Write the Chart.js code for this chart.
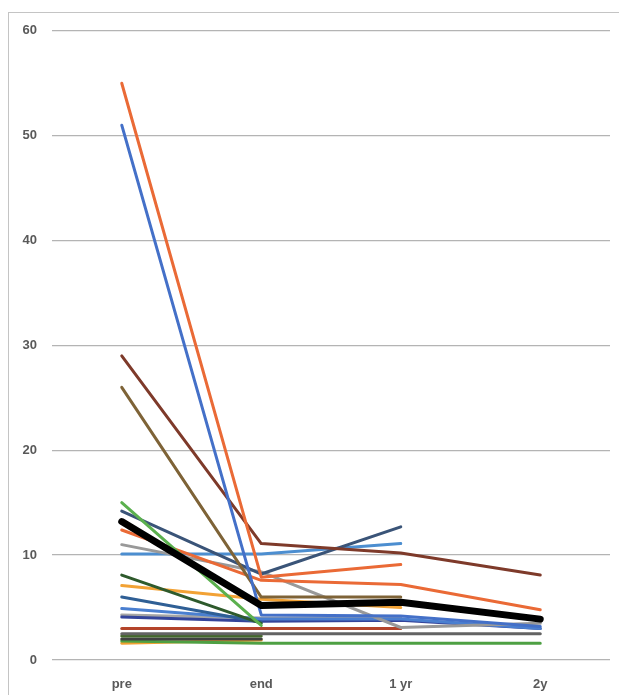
<!DOCTYPE html>
<html>
<head>
<meta charset="utf-8">
<script src="https://cdn.jsdelivr.net/npm/chart.js@4"></script>
<style>
  html, body { margin: 0; padding: 0; background: #fff; width: 619px; height: 695px; overflow: hidden; }
  #frame { position: absolute; left: 8px; top: 12px; width: 611px; height: 683px;
           border-left: 1.5px solid #c4c4c4; border-top: 1.5px solid #c4c4c4; box-sizing: border-box; }
  #wrap { position: absolute; left: 9px; top: 8px; width: 610px; height: 687px; }
</style>
</head>
<body>
<div id="frame"></div>
<div id="wrap"><canvas id="c"></canvas></div>
<script>
const categories = ["pre", "end", "1 yr", "2y"];
const yTicks = [0, 10, 20, 30, 40, 50, 60];

const sBlue51    = [51, 4.3, 4.2, 3.2];
const sOrange55  = [55, 7.9, 9.1, null];
const sGray11    = [11, 8.4, 3.1, 3.5];
const sGold7     = [7.1, 5.8, 5.0, null];
const sLtBlue10  = [10.1, 10.1, 11.1, null];
const sGreen15   = [15, 3.3, null, null];
const sNavy4     = [4.1, 3.7, 3.8, 3.0];
const sRust3     = [3.0, 3.0, 3.0, null];
const sDkGray25  = [2.5, 2.5, 2.5, 2.5];
const sOlive26   = [26, 6.0, 6.0, null];
const sSteel6    = [6.0, 3.6, null, null];
const sDkGreen8  = [8.1, 3.5, null, null];
const sBlue5     = [4.9, 3.9, 3.9, 3.0];
const sLtGray4   = [4.3, 4.0, 4.0, null];
const sOrange12  = [12.4, 7.6, 7.2, 4.8];
const sBrown29   = [29, 11.1, 10.2, 8.1];
const sNavy14    = [14.2, 8.2, 12.7, null];
const sGreen23   = [2.3, 2.3, null, null];
const sDark20    = [2.0, 2.0, null, null];
const sGreen18   = [1.8, 1.6, 1.6, 1.6];
const sGold16    = [1.6, 1.9, null, null];
const sMean      = [13.2, 5.2, 5.5, 3.9];

const series = [
  [sGold16, "#F0A030", 3],
  [sGreen18, "#4EA043", 3],
  [sDark20, "#404040", 3],
  [sGreen23, "#43682B", 3],
  [sDkGray25, "#636363", 3],
  [sRust3, "#B4442A", 3],
  [sLtGray4, "#A5A5A5", 3],
  [sNavy4, "#34449A", 3],
  [sBlue5, "#4A7FD0", 3],
  [sSteel6, "#2F5F95", 3],
  [sGold7, "#F2A235", 3],
  [sDkGreen8, "#2E5A2C", 3],
  [sLtBlue10, "#4C8ED0", 3],
  [sGray11, "#999999", 3],
  [sOrange12, "#EA6A36", 3],
  [sNavy14, "#3A5478", 3],
  [sGreen15, "#5BB04E", 3],
  [sOlive26, "#7E6337", 3],
  [sBrown29, "#7E3A2A", 3],
  [sBlue51, "#4470C8", 3],
  [sOrange55, "#EA6A36", 3],
  [sMean, "#000000", 7]
];

const datasets = series.map(([d, c, w]) => ({
  data: d, borderColor: c, backgroundColor: c, borderWidth: w,
  pointRadius: 0, pointHoverRadius: 0, tension: 0, fill: false, spanGaps: false,
  borderCapStyle: 'round', borderJoinStyle: 'round'
}));
datasets.forEach((ds, i) => ds.order = series.length - i);

const tickFont = { family: "'Liberation Sans', Arial, sans-serif", size: 13, weight: 'bold' };

new Chart(document.getElementById('c'), {
  type: 'line',
  data: { labels: categories, datasets },
  options: {
    responsive: true, maintainAspectRatio: false, animation: false,
    layout: { padding: { top: 12, right: 9, left: 0, bottom: 0 } },
    plugins: { legend: { display: false }, tooltip: { enabled: false } },
    scales: {
      x: {
        offset: true,
        grid: { display: false, drawTicks: false },
        border: { display: false },
        ticks: { color: '#595959', font: tickFont, padding: 17 },
        afterFit: (s) => { s.height = 35; }
      },
      y: {
        min: 0, max: 60,
        afterBuildTicks: (s) => { s.ticks = yTicks.map(v => ({ value: v })); },
        grid: { color: '#b4b4b4', lineWidth: 1.3, drawTicks: false },
        border: { display: false },
        ticks: { color: '#595959', font: tickFont, padding: 15 },
        afterFit: (s) => { s.width = 43; }
      }
    }
  }
});
</script>
</body>
</html>
